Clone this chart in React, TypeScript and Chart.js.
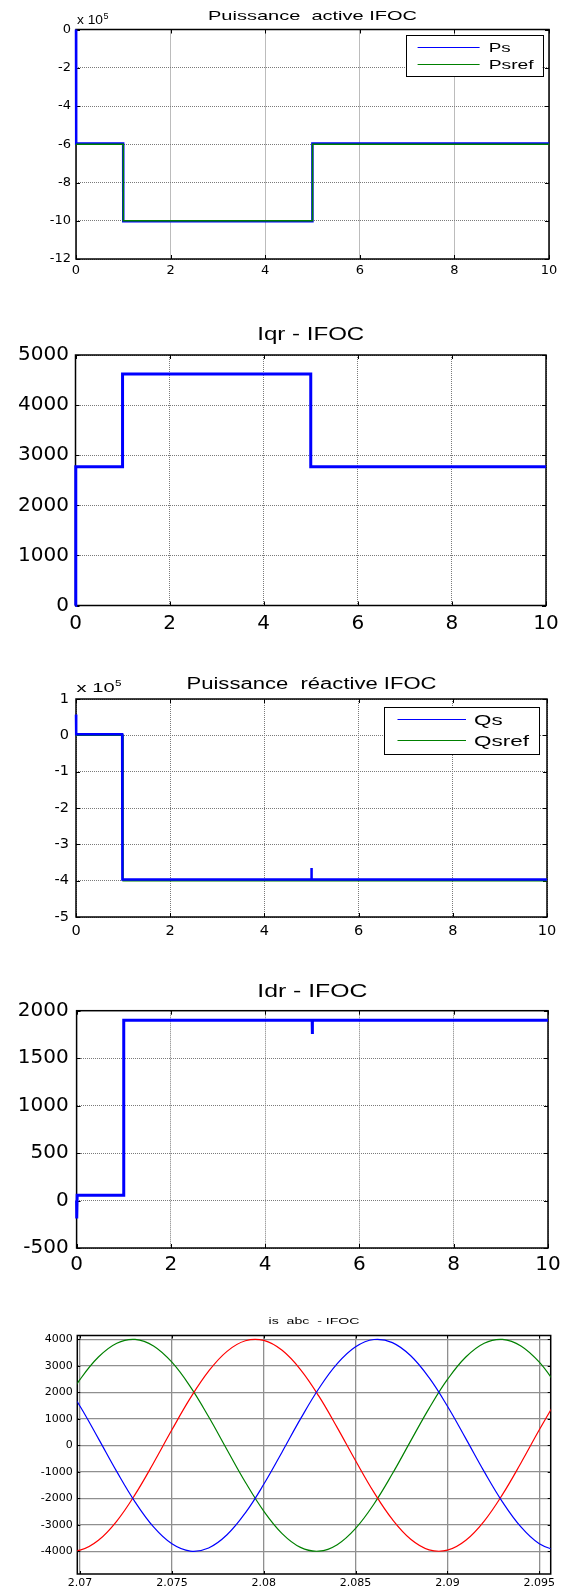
import React, { useEffect, useRef } from 'react';
import { Chart, registerables } from 'chart.js';

Chart.register(...registerables);

// ---------------- data ----------------
const timeTicks = [0, 2, 4, 6, 8, 10];
const timeTickLabels = ['0', '2', '4', '6', '8', '10'];

// Puissance active (W)
const psTime = [0, 0.004, 0.997, 0.999, 4.996, 4.998, 10];
const psValues = [0, -596000, -596000, -1002000, -1002000, -596000, -596000];
const psrefTime = [0, 1, 1, 5, 5, 10];
const psrefValues = [-600000, -600000, -1000000, -1000000, -600000, -600000];
const p1YTicks = [-1200000, -1000000, -800000, -600000, -400000, -200000, 0];
const p1YTickLabels = ['-12', '-10', '-8', '-6', '-4', '-2', '0'];

// Iqr (A)
const iqrTime = [0, 0.006, 1, 1, 5, 5, 10];
const iqrValues = [0, 2770, 2770, 4620, 4620, 2770, 2770];
const p2YTicks = [0, 1000, 2000, 3000, 4000, 5000];
const p2YTickLabels = ['0', '1000', '2000', '3000', '4000', '5000'];

// Puissance reactive (VAR)
const qsTime = [0, 0.004, 0.98, 0.985, 4.997, 5, 5.003, 10];
const qsValues = [57000, 3000, 3000, -397000, -397000, -365000, -397000, -397000];
const qsrefTime = [0, 1, 1, 10];
const qsrefValues = [0, 0, -400000, -400000];
const p3YTicks = [-500000, -400000, -300000, -200000, -100000, 0, 100000];
const p3YTickLabels = ['-5', '-4', '-3', '-2', '-1', '0', '1'];

// Idr (A)
const idrTime = [0, 0.003, 0.012, 0.997, 1, 4.997, 5, 5.004, 10];
const idrValues = [0, -190, 55, 55, 1900, 1900, 1755, 1900, 1900];
const p4YTicks = [-500, 0, 500, 1000, 1500, 2000];
const p4YTickLabels = ['-500', '0', '500', '1000', '1500', '2000'];

// is abc (A)
const isTime = [2.069, 2.07, 2.071, 2.072, 2.073, 2.074, 2.075, 2.076, 2.077, 2.078, 2.079, 2.08, 2.081, 2.082,
  2.083, 2.084, 2.085, 2.086, 2.087, 2.088, 2.089, 2.09, 2.091, 2.092, 2.093, 2.094, 2.095, 2.096];
const isaValues = [2550, 1472, 251, -995, -2143, -3082, -3719, -3992, -3874, -3377, -2550, -1472, -251, 995,
  2143, 3082, 3719, 3992, 3874, 3377, 2550, 1472, 251, -995, -2143, -3082, -3719, -3992];
const isbValues = [-3944, -3957, -3583, -2858, -1853, -667, 584, 1779, 2799, 3545, 3944, 3957, 3583, 2858,
  1853, 667, -584, -1779, -2799, -3545, -3944, -3957, -3583, -2858, -1853, -667, 584, 1779];
const iscValues = [1394, 2484, 3332, 3853, 3996, 3749, 3135, 2214, 1076, -167, -1394, -2484, -3332, -3853,
  -3996, -3749, -3135, -2214, -1076, 167, 1394, 2484, 3332, 3853, 3996, 3749, 3135, 2214];
const p5XTicks = [2.07, 2.075, 2.08, 2.085, 2.09, 2.095];
const p5XTickLabels = ['2.07', '2.075', '2.08', '2.085', '2.09', '2.095'];
const p5YTicks = [-4000, -3000, -2000, -1000, 0, 1000, 2000, 3000, 4000];
const p5YTickLabels = ['-4000', '-3000', '-2000', '-1000', '0', '1000', '2000', '3000', '4000'];

// ---------------- styling ----------------
const W = 569;
const BLUE = '#0000ff';
const GREEN = '#008000';
const RED = '#ff0000';
const TICK_FONT = '"DejaVu Sans", sans-serif';
const TEXT_FONT = '"Liberation Sans", Arial, sans-serif';

const pts = (xs: number[], ys: number[]) => xs.map((x, i) => ({ x, y: ys[i] }));

type TextSpec = { text: string; x: number; y: number; size: number; width: number };
type ExpSpec = { x: number; y: number; size: number; width: number; supDy: number; supSize: number; supWidth: number };
type LegendSpec = { x: number; y: number; w: number; h: number; lx1: number; lx2: number; tx: number; rows: number[]; size: number; widths: number[] };
type Deco = { box: number; tickLen: number; title: TextSpec; exp?: ExpSpec; legend?: LegendSpec };

type PlotSpec = {
  top: number; height: number;
  area: { left: number; right: number; top: number; bottom: number };
  yAxisW: number; xAxisH: number;
  xMin: number; xMax: number; yMin: number; yMax: number;
  xTicks: number[]; xLabels: string[]; yTicks: number[]; yLabels: string[];
  tickSize: number; xPad: number; yPad: number;
  gridColor: string; gridDash: number[]; gridWidth: number;
  datasets: any[];
  deco: Deco;
};

function stretchText(ctx: CanvasRenderingContext2D, text: string, x: number, y: number, size: number, width: number, center: boolean) {
  ctx.save();
  ctx.font = `${size}px ${TEXT_FONT}`;
  const w = ctx.measureText(text).width;
  const sx = width > 0 ? width / w : 1;
  const x0 = center ? x - (w * sx) / 2 : x;
  ctx.translate(x0, y);
  ctx.scale(sx, 1);
  ctx.fillStyle = '#000';
  ctx.textAlign = 'left';
  ctx.textBaseline = 'alphabetic';
  ctx.fillText(text, 0, 0);
  ctx.restore();
}

function decoPlugin(d: Deco) {
  return {
    id: 'matlabDeco',
    beforeDatasetsDraw(chart: any) {
      const { ctx, chartArea: a, scales } = chart;
      ctx.save();
      ctx.strokeStyle = '#000';
      ctx.lineWidth = 1;
      ctx.beginPath();
      for (const t of scales.x.ticks) {
        const px = Math.round(scales.x.getPixelForValue(t.value)) + 0.5;
        ctx.moveTo(px, a.bottom); ctx.lineTo(px, a.bottom - d.tickLen);
        ctx.moveTo(px, a.top); ctx.lineTo(px, a.top + d.tickLen);
      }
      for (const t of scales.y.ticks) {
        const py = Math.round(scales.y.getPixelForValue(t.value)) + 0.5;
        ctx.moveTo(a.left, py); ctx.lineTo(a.left + d.tickLen, py);
        ctx.moveTo(a.right, py); ctx.lineTo(a.right - d.tickLen, py);
      }
      ctx.stroke();
      ctx.lineWidth = d.box;
      ctx.strokeRect(a.left, a.top, a.right - a.left, a.bottom - a.top);
      ctx.restore();
    },
    afterDraw(chart: any) {
      const ctx: CanvasRenderingContext2D = chart.ctx;
      const t = d.title;
      stretchText(ctx, t.text, t.x, t.y, t.size, t.width, true);
      if (d.exp) {
        const e = d.exp;
        stretchText(ctx, 'x 10', e.x, e.y, e.size, e.width, false);
        stretchText(ctx, '5', e.x + e.width + 0.5, e.y - e.supDy, e.supSize, e.supWidth, false);
      }
      if (d.legend) {
        const L = d.legend;
        ctx.save();
        ctx.fillStyle = '#fff';
        ctx.fillRect(L.x, L.y, L.w, L.h);
        ctx.strokeStyle = '#000';
        ctx.lineWidth = 1;
        ctx.strokeRect(Math.round(L.x) + 0.5, Math.round(L.y) + 0.5, Math.round(L.w), Math.round(L.h));
        chart.data.datasets.forEach((ds: any, i: number) => {
          const y = Math.round(L.rows[i]) + 0.5;
          ctx.strokeStyle = ds.borderColor;
          ctx.lineWidth = 1;
          ctx.beginPath();
          ctx.moveTo(L.lx1, y); ctx.lineTo(L.lx2, y);
          ctx.stroke();
          stretchText(ctx, ds.label, L.tx, y + L.size * 0.36, L.size, L.widths[i], false);
        });
        ctx.restore();
      }
    },
  };
}

function makeConfig(p: PlotSpec): any {
  const tickFont = { family: TICK_FONT, size: p.tickSize };
  return {
    type: 'line',
    data: { datasets: p.datasets },
    options: {
      animation: false,
      responsive: false,
      maintainAspectRatio: false,
      devicePixelRatio: 1,
      events: [],
      layout: {
        padding: {
          left: p.area.left - p.yAxisW,
          right: W - p.area.right,
          top: p.area.top,
          bottom: p.height - p.area.bottom - p.xAxisH,
        },
      },
      plugins: { legend: { display: false }, title: { display: false }, tooltip: { enabled: false } },
      elements: { point: { radius: 0 }, line: { tension: 0 } },
      scales: {
        x: {
          type: 'linear',
          min: p.xMin,
          max: p.xMax,
          afterBuildTicks: (s: any) => { s.ticks = p.xTicks.map((v) => ({ value: v })); },
          afterFit: (s: any) => { s.height = p.xAxisH; },
          ticks: {
            autoSkip: false, maxRotation: 0, minRotation: 0, padding: p.xPad, color: '#000', font: tickFont,
            callback: (_v: any, i: number) => p.xLabels[i],
          },
          grid: { color: p.gridColor, lineWidth: p.gridWidth, drawTicks: false },
          border: { display: false, dash: p.gridDash },
        },
        y: {
          type: 'linear',
          min: p.yMin,
          max: p.yMax,
          afterBuildTicks: (s: any) => { s.ticks = p.yTicks.map((v) => ({ value: v })); },
          afterFit: (s: any) => { s.width = p.yAxisW; },
          ticks: {
            autoSkip: false, padding: p.yPad, color: '#000', font: tickFont,
            callback: (_v: any, i: number) => p.yLabels[i],
          },
          grid: { color: p.gridColor, lineWidth: p.gridWidth, drawTicks: false },
          border: { display: false, dash: p.gridDash },
        },
      },
    },
    plugins: [decoPlugin(p.deco)],
  };
}

const DOT = [1, 1];
const GRID = '#7a7a7a';

const specs: PlotSpec[] = [
  {
    top: 0, height: 300,
    area: { left: 76, right: 549, top: 29.5, bottom: 259 },
    yAxisW: 60, xAxisH: 25,
    xMin: 0, xMax: 10, yMin: -1200000, yMax: 0,
    xTicks: timeTicks, xLabels: timeTickLabels, yTicks: p1YTicks, yLabels: p1YTickLabels,
    tickSize: 13, xPad: 4, yPad: 5,
    gridColor: GRID, gridDash: DOT, gridWidth: 1,
    datasets: [
      { label: 'Ps', data: pts(psTime, psValues), borderColor: BLUE, borderWidth: 2.5, order: 1, clip: 4 },
      { label: 'Psref', data: pts(psrefTime, psrefValues), borderColor: GREEN, borderWidth: 1.5, order: 0, clip: 4 },
    ],
    deco: {
      box: 1.5, tickLen: 4,
      title: { text: 'Puissance  active IFOC', x: 312.5, y: 20, size: 13, width: 209 },
      exp: { x: 77, y: 24, size: 12, width: 26, supDy: 5, supSize: 8.5, supWidth: 5 },
      legend: { x: 405.5, y: 35, w: 137, h: 41, lx1: 417.6, lx2: 479.6, tx: 488.7, rows: [46.7, 64], size: 12.5, widths: [22, 45] },
    },
  },
  {
    top: 300, height: 340,
    area: { left: 75.5, right: 546, top: 55, bottom: 305.5 },
    yAxisW: 60, xAxisH: 30,
    xMin: 0, xMax: 10, yMin: 0, yMax: 5000,
    xTicks: timeTicks, xLabels: timeTickLabels, yTicks: p2YTicks, yLabels: p2YTickLabels,
    tickSize: 20, xPad: 6, yPad: 6.5,
    gridColor: GRID, gridDash: DOT, gridWidth: 1,
    datasets: [
      { label: 'Iqr', data: pts(iqrTime, iqrValues), borderColor: BLUE, borderWidth: 3, clip: 4 },
    ],
    deco: {
      box: 1.5, tickLen: 4,
      title: { text: 'Iqr - IFOC', x: 310.75, y: 40, size: 18.5, width: 107 },
    },
  },
  {
    top: 640, height: 320,
    area: { left: 76, right: 547, top: 59, bottom: 277 },
    yAxisW: 60, xAxisH: 28,
    xMin: 0, xMax: 10, yMin: -500000, yMax: 100000,
    xTicks: timeTicks, xLabels: timeTickLabels, yTicks: p3YTicks, yLabels: p3YTickLabels,
    tickSize: 14.5, xPad: 6, yPad: 7,
    gridColor: GRID, gridDash: DOT, gridWidth: 1,
    datasets: [
      { label: 'Qs', data: pts(qsTime, qsValues), borderColor: BLUE, borderWidth: 2.5, order: 0, clip: 4 },
      { label: 'Qsref', data: pts(qsrefTime, qsrefValues), borderColor: GREEN, borderWidth: 1.5, order: 1, clip: 4 },
    ],
    deco: {
      box: 1.5, tickLen: 4,
      title: { text: 'Puissance  réactive IFOC', x: 311.5, y: 49, size: 16, width: 250 },
      exp: { x: 76.6, y: 52, size: 13, width: 38, supDy: 6, supSize: 9.5, supWidth: 6.5 },
      legend: { x: 384, y: 66.7, w: 155, h: 47.3, lx1: 397.5, lx2: 466, tx: 474, rows: [79, 100], size: 14, widths: [28.6, 55] },
    },
  },
  {
    top: 960, height: 320,
    area: { left: 76.6, right: 548, top: 50.7, bottom: 288 },
    yAxisW: 60, xAxisH: 28,
    xMin: 0, xMax: 10, yMin: -500, yMax: 2000,
    xTicks: timeTicks, xLabels: timeTickLabels, yTicks: p4YTicks, yLabels: p4YTickLabels,
    tickSize: 20, xPad: 5, yPad: 8,
    gridColor: GRID, gridDash: DOT, gridWidth: 1,
    datasets: [
      { label: 'Idr', data: pts(idrTime, idrValues), borderColor: BLUE, borderWidth: 3, clip: 4 },
    ],
    deco: {
      box: 1.5, tickLen: 4,
      title: { text: 'Idr - IFOC', x: 312.3, y: 37.3, size: 18.5, width: 110 },
    },
  },
  {
    top: 1280, height: 309,
    area: { left: 77.3, right: 550.7, top: 55.5, bottom: 294 },
    yAxisW: 60, xAxisH: 14,
    xMin: 2.06985, xMax: 2.09562, yMin: -4857, yMax: 4143,
    xTicks: p5XTicks, xLabels: p5XTickLabels, yTicks: p5YTicks, yLabels: p5YTickLabels,
    tickSize: 11, xPad: 3, yPad: 4.5,
    gridColor: '#8f8f8f', gridDash: [], gridWidth: 1.3,
    datasets: [
      { label: 'isa', data: pts(isTime, isaValues), borderColor: BLUE, borderWidth: 1.2, tension: 0.4, clip: 0 },
      { label: 'isb', data: pts(isTime, isbValues), borderColor: RED, borderWidth: 1.2, tension: 0.4, clip: 0 },
      { label: 'isc', data: pts(isTime, iscValues), borderColor: GREEN, borderWidth: 1.2, tension: 0.4, clip: 0 },
    ],
    deco: {
      box: 1.5, tickLen: 3,
      title: { text: 'is  abc  - IFOC', x: 314, y: 44.3, size: 9.5, width: 91 },
    },
  },
];

function PlotCanvas({ spec }: { spec: PlotSpec }) {
  const ref = useRef<HTMLCanvasElement | null>(null);
  useEffect(() => {
    if (!ref.current) return;
    const chart = new Chart(ref.current, makeConfig(spec));
    return () => chart.destroy();
  }, [spec]);
  return (
    <canvas
      ref={ref}
      width={W}
      height={spec.height}
      style={{ position: 'absolute', left: 0, top: spec.top, width: W, height: spec.height }}
    />
  );
}

export default function App() {
  return (
    <div style={{ position: 'absolute', left: 0, top: 0, width: W, height: 1589, background: '#fff' }}>
      {specs.map((s, i) => (
        <PlotCanvas key={i} spec={s} />
      ))}
    </div>
  );
}
